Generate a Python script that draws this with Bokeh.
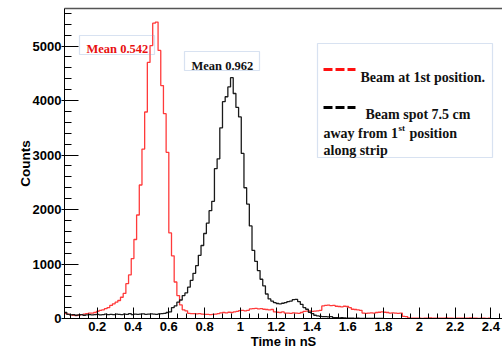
import numpy as np
from bokeh.plotting import figure
from bokeh.models import (Range1d, SingleIntervalTicker, LinearAxis, FixedTicker,
                          CustomJSTickFormatter, BoxAnnotation, Label)
from bokeh.embed import file_html
from bokeh.resources import INLINE

# ---------------- data ----------------
bin_start = 0.0
bin_width = 0.015

red_counts = [95, 90, 80, 70, 60, 55, 60, 70, 80, 90,
              100, 100, 110, 130, 150, 160, 180, 200, 240, 270,
              300, 330, 390, 460, 640, 800, 1100, 1450, 1900, 2450,
              3110, 3790, 4700, 5010, 5420, 5440, 4920, 4275, 3760, 3050,
              1570, 1150, 670, 420, 250, 160, 140, 95, 90, 90,
              85, 90, 80, 75, 75, 70, 75, 80, 90, 105,
              110, 105, 115, 110, 120, 130, 145, 150, 140, 150,
              175, 180, 185, 175, 180, 170, 165, 160, 165, 120,
              115, 110, 120, 100, 100, 95, 105, 100, 95, 110,
              130, 135, 140, 130, 135, 140, 150, 230, 240, 245,
              235, 240, 225, 220, 215, 225, 220, 200, 170, 165,
              160, 150, 100, 95, 100, 105, 100, 110, 115, 120,
              115, 110, 100, 105, 100, 95, 100, 40, 35, 10,
              5, 5, 8, 5, 3, 5, 5, 10, 5, 5,
              8, 5, 5, 10, 5, 5, 0, 5, 8, 5,
              5, 5, 10, 5, 5, 0, 5, 5, 3, 5]

black_counts = [130, 110, 75, 65, 70, 60, 65, 70, 60, 65,
                70, 65, 70, 75, 65, 70, 80, 70, 75, 70,
                80, 75, 70, 80, 75, 90, 70, 80, 75, 80,
                85, 75, 80, 85, 80, 75, 85, 90, 95, 110,
                120, 200, 230, 300, 340, 420, 470, 575, 700, 830,
                970, 1160, 1340, 1560, 1750, 1980, 2150, 2750, 2930, 3500,
                3980, 4070, 4250, 4420, 4130, 3875, 3700, 3030, 2400, 2100,
                1700, 1250, 1050, 880, 720, 600, 450, 360, 320, 290,
                275, 270, 280, 290, 310, 320, 345, 350, 310, 260,
                200, 170, 115, 90, 60, 50, 40, 35, 35, 30,
                35, 15, 15, 12, 15, 10, 8, 5, 5, 3,
                5, 3, 2, 0, 3, 0, 2, 0, 0, 0]

mean_texts = ["Mean 0.542", "Mean 0.962"]
legend_lines = ["Beam at 1st position.", "Beam spot 7.5 cm",
                "away from 1", "st", "position", "along strip"]
x_title = "Time in nS"
y_title = "Counts"

# ---------------- layout ----------------
X0, X1 = 0.017, 2.465
Y0, Y1 = 0, 5690
FL, FT, FW, FH = 64, 8, 438, 310   # frame in page pixels


def dx(px):
    return X0 + (px - FL) * (X1 - X0) / FW


def dy(py):
    return Y1 - (py - FT) * (Y1 - Y0) / FH


p = figure(width=502, height=351, x_range=Range1d(X0, X1), y_range=Range1d(Y0, Y1),
           output_backend="svg", toolbar_location=None,
           x_axis_type=None, y_axis_type=None,
           min_border_left=64, min_border_right=0, min_border_top=8, min_border_bottom=33)
p.outline_line_color = None
p.grid.visible = False
p.background_fill_color = "white"
p.border_fill_color = "white"

lab_font = "Liberation Sans"

xaxis = LinearAxis(ticker=SingleIntervalTicker(interval=0.2, num_minor_ticks=4),
                   formatter=CustomJSTickFormatter(code="return String(Math.round(tick*100)/100);"))
xaxis.axis_label = x_title
xaxis.axis_line_color = "black"
xaxis.major_tick_in = 11
xaxis.major_tick_out = 0
xaxis.minor_tick_in = 5
xaxis.minor_tick_out = 0
xaxis.major_tick_line_color = "black"
xaxis.minor_tick_line_color = "black"
xaxis.major_label_standoff = 3
xaxis.major_label_text_font = lab_font
xaxis.major_label_text_font_style = "bold"
xaxis.major_label_text_font_size = "13px"
xaxis.major_label_text_color = "black"
xaxis.axis_label_standoff = 0
xaxis.axis_label_text_font = lab_font
xaxis.axis_label_text_font_style = "bold"
xaxis.axis_label_text_font_size = "13px"
xaxis.axis_label_text_color = "black"
p.add_layout(xaxis, "below")

yaxis = LinearAxis(ticker=SingleIntervalTicker(interval=1000, num_minor_ticks=5))
yaxis.axis_label = y_title
yaxis.axis_line_color = "black"
yaxis.major_tick_in = 14
yaxis.major_tick_out = 3
yaxis.minor_tick_in = 7
yaxis.minor_tick_out = 0
yaxis.major_label_standoff = 0
yaxis.major_label_text_font = lab_font
yaxis.major_label_text_font_style = "bold"
yaxis.major_label_text_font_size = "13px"
yaxis.major_label_text_color = "black"
yaxis.axis_label_standoff = -3
yaxis.axis_label_text_font = lab_font
yaxis.axis_label_text_font_style = "bold"
yaxis.axis_label_text_font_size = "13.5px"
yaxis.axis_label_text_color = "black"
p.add_layout(yaxis, "left")

top = LinearAxis(ticker=FixedTicker(ticks=[], minor_ticks=[]))
top.axis_line_color = "#555555"
top.axis_line_width = 1.5
top.major_tick_out = 0
top.major_tick_in = 0
top.minor_tick_out = 0
top.minor_tick_in = 0
top.major_label_standoff = 0
p.add_layout(top, "above")

# ---------------- histograms ----------------
red_edges = bin_start + bin_width * np.arange(len(red_counts) + 1)
black_edges = bin_start + bin_width * np.arange(len(black_counts) + 1)
p.step(red_edges, list(red_counts) + [red_counts[-1]], mode="after",
       line_color="#ff3a3a", line_width=1.3)
p.step(black_edges, list(black_counts) + [black_counts[-1]], mode="after",
       line_color="#1a1a1a", line_width=1.3)

# ---------------- annotations ----------------
box_col = "#7f9fd2"
serif = "Liberation Serif"

p.add_layout(BoxAnnotation(left=dx(79), right=dx(154), top=dy(35), bottom=dy(54),
                           fill_color=None, line_color=box_col, line_width=1.2))
p.add_layout(Label(x=dx(86), y=dy(48.5), text=mean_texts[0], text_color="#e81010",
                   text_font=serif, text_font_style="bold", text_font_size="12.5px",
                   text_baseline="alphabetic"))
p.add_layout(BoxAnnotation(left=dx(184), right=dx(259), top=dy(51), bottom=dy(70),
                           fill_color=None, line_color=box_col, line_width=1.2))
p.add_layout(Label(x=dx(191), y=dy(65), text=mean_texts[1], text_color="#111111",
                   text_font=serif, text_font_style="bold", text_font_size="12.5px",
                   text_baseline="alphabetic"))

# legend box
p.add_layout(BoxAnnotation(left=dx(317), right=dx(492), top=dy(43), bottom=dy(157),
                           fill_color=None, line_color=box_col, line_width=1.2))
p.segment(x0=[dx(323)], y0=[dy(69)], x1=[dx(355)], y1=[dy(69)],
          line_color="#ff1010", line_width=3, line_dash="9 3")
p.segment(x0=[dx(323)], y0=[dy(107)], x1=[dx(355)], y1=[dy(107)],
          line_color="black", line_width=3, line_dash="9 3")


def leg_label(px, py, txt, size="14px"):
    p.add_layout(Label(x=dx(px), y=dy(py), text=txt, text_color="#111111",
                       text_font=serif, text_font_style="bold", text_font_size=size,
                       text_baseline="alphabetic", text_align="left"))


leg_label(360, 76.5, legend_lines[0])
leg_label(365, 114, legend_lines[1])
leg_label(323, 133, legend_lines[2])
leg_label(398, 127, legend_lines[3], size="9px")
leg_label(409, 133, legend_lines[4])
leg_label(323, 150, legend_lines[5])

open("out.html", "w").write(file_html(p, INLINE))
